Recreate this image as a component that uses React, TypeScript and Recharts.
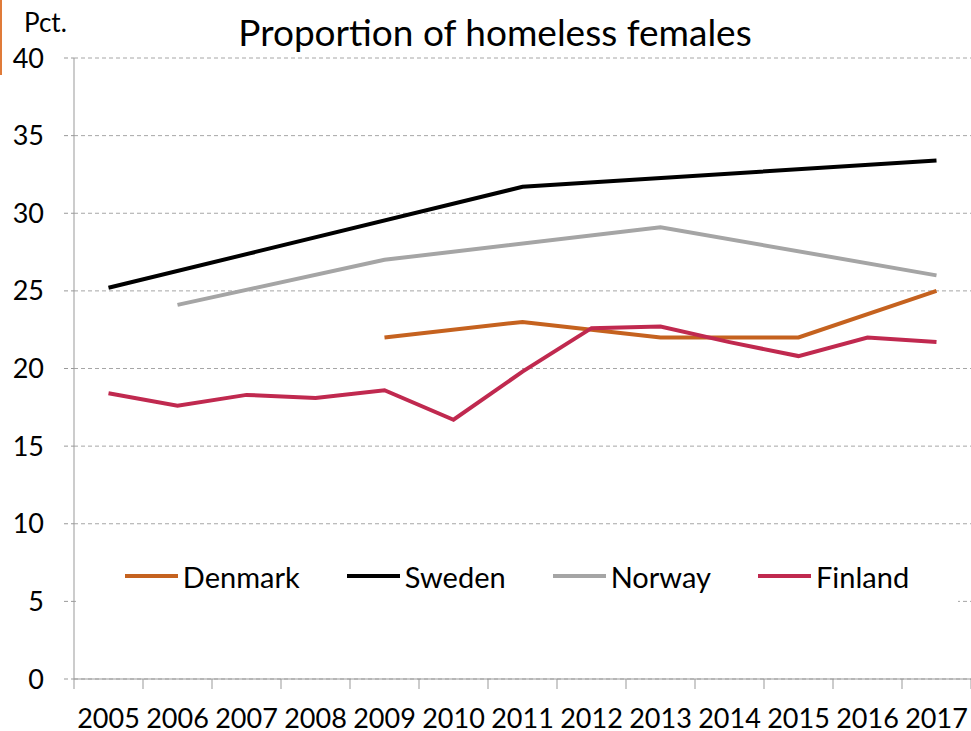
import { LineChart, Line, XAxis, YAxis, CartesianGrid } from "recharts";

const years = ["2005", "2006", "2007", "2008", "2009", "2010", "2011", "2012", "2013", "2014", "2015", "2016", "2017"];
const denmark = [null, null, null, null, 22, null, 23, null, 22, null, 22, null, 25];
const sweden = [25.2, null, null, null, null, null, 31.7, null, null, null, null, null, 33.4];
const norway = [null, 24.1, null, null, 27, null, null, null, 29.1, null, null, null, 26];
const finland = [18.4, 17.6, 18.3, 18.1, 18.6, 16.7, 19.8, 22.6, 22.7, 21.7, 20.8, 22.0, 21.7];
const yTicks = [0, 5, 10, 15, 20, 25, 30, 35, 40];

const series = [
    { key: "Denmark", values: denmark, color: "#C5621F" },
    { key: "Sweden", values: sweden, color: "#000000" },
    { key: "Norway", values: norway, color: "#A5A5A5" },
    { key: "Finland", values: finland, color: "#C0294F" },
];

const data = years.map((year, i) => {
    const row: any = { year };
    series.forEach((s) => {
        row[s.key] = s.values[i];
    });
    return row;
});

const W = 971;
const H = 731;
const LEFT = 74;
const FONT = "Lato, 'Open Sans', sans-serif";
const STEP = (W - LEFT) / years.length;

function YearTick(props: any) {
    const { x, y, payload, index } = props;
    const half = STEP / 2;
    return (
        <g>
            <line x1={x - half} x2={x - half} y1={y} y2={y + 10} stroke="#999" />
            {index === years.length - 1 && (
                <line x1={x + half} x2={x + half} y1={y} y2={y + 10} stroke="#999" />
            )}
            <text x={x} y={y + 49} textAnchor="middle" fontSize={27} fontFamily={FONT} fill="#000">
                {payload.value}
            </text>
        </g>
    );
}

export default function App() {
    return (
        <div style={{ position: "absolute", left: 0, top: 0, width: W, height: H, background: "#fff" }}>
            <div style={{ position: "absolute", left: 0, top: 0, width: 2, height: 75, background: "#E07B39" }} />
            <LineChart
                width={W}
                height={H}
                data={data}
                margin={{ top: 58, right: 0, bottom: 0, left: 0 }}
            >
                <CartesianGrid vertical={false} stroke="#A6A6A6" strokeDasharray="4 3" />
                <XAxis
                    dataKey="year"
                    height={52}
                    padding={{ left: STEP / 2, right: STEP / 2 }}
                    axisLine={{ stroke: "#999" }}
                    tickLine={false}
                    tickSize={0}
                    tickMargin={0}
                    interval={0}
                    tick={(p: any) => <YearTick {...p} />}
                />
                <YAxis
                    width={LEFT}
                    domain={[0, 40]}
                    ticks={yTicks}
                    interval={0}
                    axisLine={{ stroke: "#999" }}
                    tickLine={{ stroke: "#999", strokeDasharray: "4 3" }}
                    tickSize={10}
                    tickMargin={20}
                    tick={{ fill: "#000", fontSize: 27, fontFamily: FONT }}
                />
                {series.map((s) => (
                    <Line
                        key={s.key}
                        dataKey={s.key}
                        stroke={s.color}
                        strokeWidth={4}
                        dot={false}
                        activeDot={false}
                        connectNulls
                        isAnimationActive={false}
                    />
                ))}
            </LineChart>
            <div
                style={{
                    position: "absolute",
                    left: 0,
                    top: 13,
                    width: 990,
                    textAlign: "center",
                    fontFamily: FONT,
                    fontSize: 37,
                    lineHeight: 1,
                    color: "#000",
                }}
            >
                Proportion of homeless females
            </div>
            <div
                style={{
                    position: "absolute",
                    left: 24,
                    top: 9,
                    fontFamily: FONT,
                    fontSize: 26,
                    lineHeight: 1,
                    color: "#000",
                }}
            >
                Pct.
            </div>
            <div
                style={{
                    position: "absolute",
                    left: 76,
                    top: 548,
                    width: 882,
                    height: 56,
                    background: "#fff",
                    display: "flex",
                    alignItems: "center",
                    justifyContent: "center",
                    gap: 47,
                    fontFamily: FONT,
                    fontSize: 29,
                    lineHeight: 1,
                }}
            >
                {series.map((s) => (
                    <div key={s.key} style={{ display: "flex", alignItems: "center", gap: 5 }}>
                        <div style={{ width: 53, height: 4, background: s.color }} />
                        <span>{s.key}</span>
                    </div>
                ))}
            </div>
        </div>
    );
}
